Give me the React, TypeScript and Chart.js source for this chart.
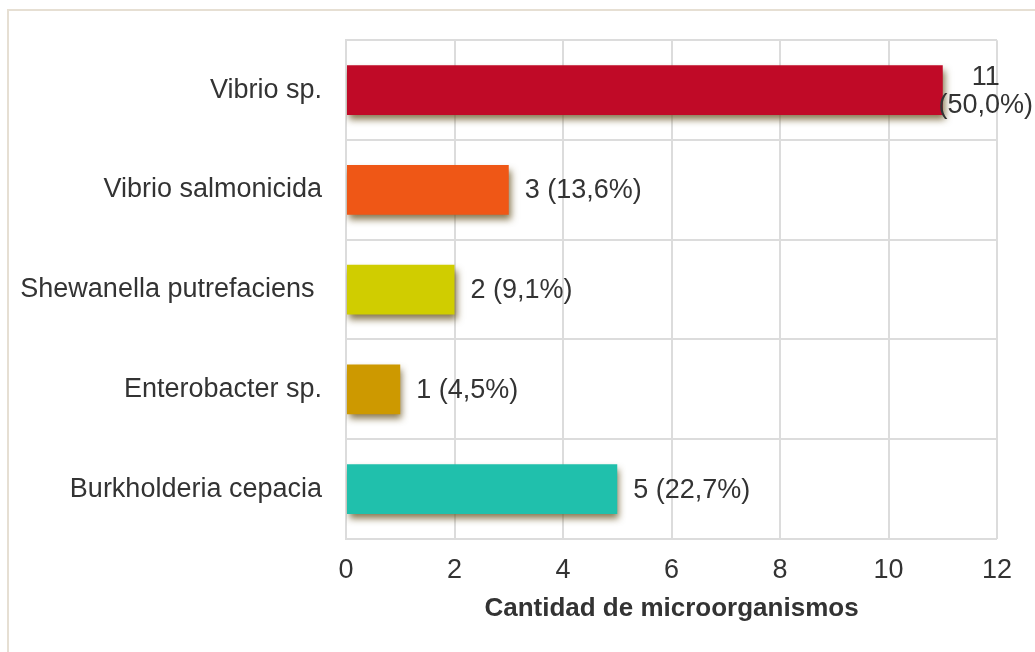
import React, { useEffect, useRef } from "react";
import { Chart, registerables } from "chart.js";

Chart.register(...registerables);

const categories = [
  "Vibrio sp.",
  "Vibrio salmonicida",
  "Shewanella putrefaciens ",
  "Enterobacter sp.",
  "Burkholderia cepacia",
];
const counts = [11, 3, 2, 1, 5];
const percentLabels = ["(50,0%)", "(13,6%)", "(9,1%)", "(4,5%)", "(22,7%)"];
const barColors = ["#c00a27", "#ef5716", "#d0cd00", "#cd9900", "#20c0ac"];
const xTicks = [0, 2, 4, 6, 8, 10, 12];
const xTitle = "Cantidad de microorganismos";

const FONT = "'Liberation Sans', Arial, sans-serif";
const TEXT = "#333333";
const FS = 27;

const shadowPlugin = {
  id: "barShadow",
  beforeDatasetsDraw(chart: any) {
    const ctx = chart.ctx;
    ctx.save();
    ctx.shadowColor = "rgba(105, 85, 35, 0.8)";
    ctx.shadowBlur = 7;
    ctx.shadowOffsetX = 2;
    ctx.shadowOffsetY = 5;
  },
  afterDatasetsDraw(chart: any) {
    chart.ctx.restore();
  },
};

const labelPlugin = {
  id: "valueLabels",
  afterDraw(chart: any) {
    const ctx = chart.ctx;
    const meta = chart.getDatasetMeta(0);
    ctx.save();
    ctx.font = `${FS}px ${FONT}`;
    ctx.fillStyle = TEXT;
    ctx.textBaseline = "middle";
    meta.data.forEach((bar: any, i: number) => {
      const v = counts[i];
      if (i === 0) {
        ctx.textAlign = "center";
        const cx = bar.x + 43;
        ctx.fillText(String(v), cx, bar.y - 13);
        ctx.fillText(percentLabels[i], cx, bar.y + 15);
      } else {
        ctx.textAlign = "left";
        ctx.fillText(`${v} ${percentLabels[i]}`, bar.x + 16, bar.y + 1);
      }
    });
    ctx.restore();
  },
};

export default function App() {
  const ref = useRef<HTMLCanvasElement | null>(null);

  useEffect(() => {
    if (!ref.current) return;
    const chart = new Chart(ref.current, {
      type: "bar",
      data: {
        labels: categories,
        datasets: [
          {
            data: counts,
            backgroundColor: barColors,
            borderWidth: 0,
            barPercentage: 0.5,
            categoryPercentage: 1,
          },
        ],
      },
      options: {
        indexAxis: "y",
        animation: false,
        responsive: false,
        maintainAspectRatio: false,
        layout: { padding: { top: 39, right: 38, left: 0, bottom: 0 } },
        plugins: {
          legend: { display: false },
          tooltip: { enabled: false },
        },
        scales: {
          x: {
            min: 0,
            max: 12,
            afterBuildTicks: (scale: any) => {
              scale.ticks = xTicks.map((v) => ({ value: v }));
            },
            afterFit: (scale: any) => {
              scale.height = 113;
            },
            grid: { color: "#dcdcdc", lineWidth: 2, drawTicks: false },
            border: { display: false },
            ticks: {
              color: TEXT,
              font: { family: FONT, size: FS },
              padding: 15,
              maxRotation: 0,
            },
            title: {
              display: true,
              text: xTitle,
              color: TEXT,
              font: { family: FONT, size: FS - 1, weight: "bold" },
              padding: { top: 0, bottom: 28 },
            },
          },
          y: {
            afterFit: (scale: any) => {
              scale.width = 346;
            },
            grid: { color: "#dcdcdc", lineWidth: 2, drawTicks: false, offset: true },
            border: { display: true, color: "#dcdcdc", width: 2 },
            ticks: {
              color: TEXT,
              font: { family: FONT, size: FS },
              padding: 24,
            },
          },
        },
      },
      plugins: [shadowPlugin, labelPlugin],
    });
    return () => chart.destroy();
  }, []);

  return (
    <div style={{ position: "absolute", left: 0, top: 0, width: 1035, height: 652, background: "#fff", overflow: "hidden" }}>
      <div
        style={{
          position: "absolute",
          left: 7,
          top: 9,
          width: 1100,
          height: 700,
          borderTop: "2px solid #e6dfd3",
          borderLeft: "2px solid #e6dfd3",
        }}
      />
      <canvas ref={ref} width={1035} height={652} style={{ position: "absolute", left: 0, top: 0 }} />
    </div>
  );
}
